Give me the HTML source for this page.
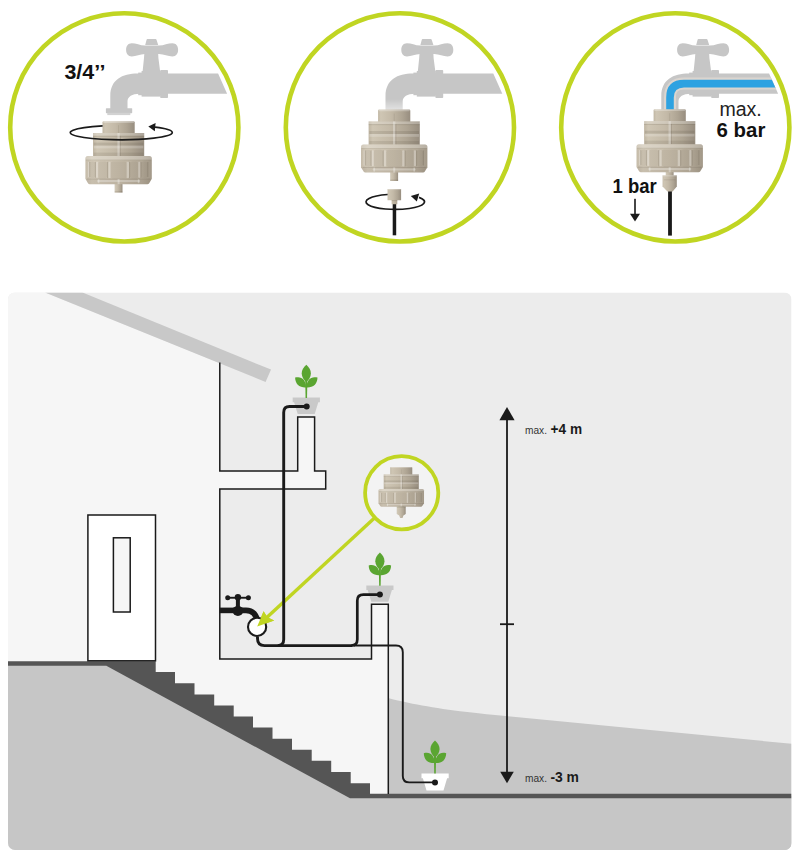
<!DOCTYPE html>
<html>
<head>
<meta charset="utf-8">
<title>Pressure reducer installation</title>
<style>
html,body{margin:0;padding:0;background:#ffffff;}
body{width:800px;height:857px;overflow:hidden;font-family:"Liberation Sans",sans-serif;}
svg{display:block;}
text{font-family:"Liberation Sans",sans-serif;}
</style>
</head>
<body>
<svg width="800" height="857" viewBox="0 0 800 857">
<defs>
  <!-- horizontal cylinder shading for beige parts -->
  <linearGradient id="cyl" x1="0" y1="0" x2="1" y2="0">
    <stop offset="0" stop-color="#bfb5a2"/>
    <stop offset="0.08" stop-color="#cfc6b4"/>
    <stop offset="0.4" stop-color="#c4baa8"/>
    <stop offset="0.75" stop-color="#aea493"/>
    <stop offset="1" stop-color="#978d7f"/>
  </linearGradient>
  <linearGradient id="cyl2" x1="0" y1="0" x2="1" y2="0">
    <stop offset="0" stop-color="#c5bba9"/>
    <stop offset="0.1" stop-color="#d3cab9"/>
    <stop offset="0.5" stop-color="#c7bdab"/>
    <stop offset="0.85" stop-color="#b3a998"/>
    <stop offset="1" stop-color="#a29888"/>
  </linearGradient>
  <linearGradient id="fade" x1="0" y1="0" x2="0" y2="1"><stop offset="0" stop-color="#fff" stop-opacity="0"/><stop offset="1" stop-color="#fff" stop-opacity="0.5"/></linearGradient>
  <clipPath id="waterclip"><path d="M640,60 L763.1,60 L769.1,73.6 L778.1,93.7 L785,120 L640,120 Z"/></clipPath>
  <clipPath id="panelclip"><rect x="8" y="292.5" width="783.5" height="557.5" rx="7" ry="7"/></clipPath>

  <!-- FAUCET silhouette, drawn in circle-1 coordinates -->
  <g id="faucet">
    <!-- top knob -->
    <path d="M147.4,39 L155.6,39 Q156.3,39 156.5,39.7 L158.2,45 L145.2,45 L146.6,39.7 Q146.8,39 147.4,39 Z"/>
    <!-- handle -->
    <path d="M131.8,43.2 C128,43.2 126.1,46 126.1,49.8 C126.1,53.6 128,56.5 131.8,56.5 C136,56.5 140,54.4 145,54.1 L159,54.1 C164,54.4 168,56.5 172.4,56.5 C176.2,56.5 178.1,53.6 178.1,49.8 C178.1,46 176.2,43.2 172.4,43.2 C168,43.2 164,45.3 159,45.6 L145,45.6 C140,45.3 136,43.2 131.8,43.2 Z"/>
    <!-- stem -->
    <path d="M144.8,46 L157.8,46 L158.4,58 L160.2,72 L142.4,73.6 L144,58 Z"/>
    <!-- valve body -->
    <rect x="138.2" y="72.6" width="23" height="22.6"/>
    <rect x="160.2" y="70" width="7.8" height="28" rx="0.8"/>
    <rect x="141.6" y="71" width="19" height="25.6"/>
    <!-- pipe -->
    <path d="M137.8,73.6 L218.1,73.6 L227.1,93.7 L139.7,93.7 C132,93.7 127.5,96.6 127.5,101.6 L127.5,110 L110.3,110 L110.3,96 C110.3,80 122,73.6 137.8,73.6 Z"/>
  </g>
  <g id="flange">
    <rect x="105.9" y="108.2" width="26.3" height="5" rx="0.6"/>
    <rect x="107.3" y="112.8" width="23" height="2.3" fill="#d2d2d2"/>
  </g>

  <!-- ADAPTER: local coords, centre x=0, neck top y=0 -->
  <g id="adapter">
    <!-- nozzle -->
    <rect x="-3.9" y="61" width="7.8" height="10.4" fill="url(#cyl)"/>
    <rect x="-3.9" y="69.8" width="7.8" height="1.6" fill="#4a4030" opacity="0.12"/>
    <!-- neck -->
    <rect x="-16.1" y="0" width="32.2" height="14" rx="1.2" fill="url(#cyl)"/>
    <rect x="-15.6" y="0" width="31.2" height="1.7" rx="0.8" fill="#fff" opacity="0.28"/>
    <rect x="-0.4" y="4" width="0.8" height="8" fill="#4a4030" opacity="0.12"/>
    <!-- mid body -->
    <rect x="-25.6" y="11.8" width="51.2" height="24" fill="url(#cyl)"/>
    <rect x="-25.8" y="11.8" width="51.6" height="2.8" rx="0.5" fill="#fff" opacity="0.22"/>
    <rect x="-25.6" y="14.6" width="51.2" height="0.9" fill="#4a4030" opacity="0.16"/>
    <rect x="-24.8" y="21.4" width="49.6" height="3" fill="#4a4030" opacity="0.14"/>
    <rect x="-24.8" y="24.4" width="49.6" height="2.8" fill="#fff" opacity="0.2"/>
    <rect x="-24.8" y="31.4" width="49.6" height="3.4" fill="#4a4030" opacity="0.12"/>
    <rect x="-1.2" y="11.8" width="2.4" height="23.4" fill="#fff" opacity="0.3"/>
    <rect x="1.2" y="14.6" width="0.9" height="20.4" fill="#4a4030" opacity="0.2"/>
    <!-- nut -->
    <path d="M-33.2,37.4 Q-33.2,34.9 -30.7,34.9 L30.7,34.9 Q33.2,34.9 33.2,37.4 L33.2,57.6 L30.6,62 Q30,63 28.8,63 L-28.8,63 Q-30,63 -30.6,62 L-33.2,57.6 Z" fill="url(#cyl2)"/>
    <path d="M-33.2,37.4 Q-33.2,34.9 -30.7,34.9 L30.7,34.9 Q33.2,34.9 33.2,37.4 L33.2,38.6 L-33.2,38.6 Z" fill="#fff" opacity="0.22"/>
    <rect x="-32.8" y="38.4" width="65.6" height="0.8" fill="#4a4030" opacity="0.12"/>
    <!-- ribs -->
    <g fill="#fff" opacity="0.26">
      <rect x="-22.6" y="40.6" width="2.2" height="16" rx="1"/>
      <rect x="-10.4" y="40.6" width="2.4" height="16.4" rx="1.1"/>
      <rect x="8" y="40.6" width="2.4" height="16.4" rx="1.1"/>
      <rect x="19.6" y="40.6" width="2.2" height="16" rx="1"/>
      <rect x="-30.6" y="40.6" width="1.2" height="15.4" rx="0.6"/>
    </g>
    <g fill="#4a4030" opacity="0.2">
      <rect x="-23.8" y="40.6" width="1.2" height="16" rx="0.6"/>
      <rect x="-11.6" y="40.6" width="1.2" height="16.4" rx="0.6"/>
      <rect x="10.4" y="40.6" width="1.2" height="16.4" rx="0.6"/>
      <rect x="21.8" y="40.6" width="1.2" height="16" rx="0.6"/>
      <rect x="-29.4" y="40.6" width="1" height="15.4" rx="0.5"/>
      <rect x="28.6" y="40.6" width="1.2" height="15.4" rx="0.6"/>
    </g>
    <g fill="#4a4030" opacity="0.07">
      <rect x="-28.4" y="40.2" width="4.6" height="16.6" rx="1.6"/>
      <rect x="-20.4" y="40.2" width="8.8" height="17" rx="2"/>
      <rect x="-8" y="40.2" width="16" height="17.2" rx="2.4"/>
      <rect x="11.6" y="40.2" width="8" height="17" rx="2"/>
      <rect x="23" y="40.2" width="5.6" height="16.6" rx="1.6"/>
    </g>
    <!-- lower rim -->
    <path d="M-33,57.8 L33,57.8 L30.6,62 Q30,63 28.8,63 L-28.8,63 Q-30,63 -30.6,62 Z" fill="#4a4030" opacity="0.08"/>
    <rect x="-31.6" y="57.3" width="63.2" height="0.9" fill="#4a4030" opacity="0.2"/>
    <rect x="-21.6" y="58.8" width="43.2" height="2" rx="1" fill="#fff" opacity="0.25"/>
    <rect x="-1" y="57.8" width="2" height="5.2" fill="#fff" opacity="0.3"/>
    <rect x="-20.8" y="58" width="1.6" height="4" fill="#fff" opacity="0.3"/>
    <rect x="19.2" y="58" width="1.6" height="4" fill="#fff" opacity="0.3"/>
  </g>

  <!-- PLANT: local coords, centre x=0, pot rim top y=0 -->
  <g id="sprout" fill="#5aa531">
    <path d="M-1.05,-17 L1.05,-17 L0.75,0.6 L-0.75,0.6 Z"/>
    <path d="M0,-32.6 C2.8,-30 4.6,-27.2 4.6,-24 C4.6,-20.4 2.2,-17.4 0,-15.4 C-2.2,-17.4 -4.6,-20.4 -4.6,-24 C-4.6,-27.2 -2.8,-30 0,-32.6 Z"/>
    <path d="M-11.2,-19.8 C-8,-20.8 -4.4,-20.2 -2.6,-17.6 C-1.4,-16 -0.8,-14.4 -0.4,-12.6 L-0.3,-10 C-3,-9.8 -6.4,-10.4 -8.6,-12.6 C-10.2,-14.4 -11.1,-16.8 -11.2,-19.8 Z"/>
    <path d="M11.2,-19.8 C8,-20.8 4.4,-20.2 2.6,-17.6 C1.4,-16 0.8,-14.4 0.4,-12.6 L0.3,-10 C3,-9.8 6.4,-10.4 8.6,-12.6 C10.2,-14.4 11.1,-16.8 11.2,-19.8 Z"/>
  </g>
  <path id="pot" d="M-13.6,0.2 L13.6,0.2 L13.6,4.8 L12,4.8 L8.4,16.5 L-8.6,16.5 L-12.2,4.8 L-13.6,4.8 Z"/>
</defs>

<!-- ============ TOP CIRCLES ============ -->
<g id="c1">
  <circle cx="124.3" cy="127.4" r="114.1" fill="#fff" stroke="#c0d522" stroke-width="4.6"/>
  <use href="#faucet" fill="#c6c6c6"/>
  <use href="#flange" fill="#c6c6c6"/>
  <!-- rotation arrow back part is hidden by the neck -->
  <use href="#adapter" transform="translate(118.6,121.2)"/>
  <path d="M102.6,125.9 A51,7.2 0 1 0 155,127.2" fill="none" stroke="#1a1a1a" stroke-width="1.7"/>
  <path d="M148.3,126.4 L155.6,123 L154.8,131.2 Z" fill="#1a1a1a"/>
  <text x="64.4" y="78.6" font-size="20.5" font-weight="bold" fill="#111" textLength="41" lengthAdjust="spacingAndGlyphs">3/4&#8217;&#8217;</text>
</g>
<g id="c2">
  <circle cx="399.9" cy="127.4" r="114.1" fill="#fff" stroke="#c0d522" stroke-width="4.6"/>
  <use href="#faucet" fill="#c6c6c6" transform="translate(275.2,0)"/>
  <rect x="384" y="99" width="20" height="11" fill="url(#fade)"/>
  <use href="#adapter" transform="translate(394.2,109.6)"/>
  <!-- loose connector + tube -->
  <rect x="392.7" y="203" width="3.5" height="32.3" fill="#1a1a1a"/>
  <path d="M387.6,188.9 L401.1,188.9 L401.1,200.2 L397.3,200.2 L397.3,204.3 L391.6,204.3 L391.6,200.2 L387.6,200.2 Z" fill="url(#cyl)"/>
  <rect x="387.6" y="188.9" width="13.5" height="1.2" fill="#fff" opacity="0.25"/>
  <rect x="391.6" y="200.2" width="5.7" height="0.9" fill="#4a4030" opacity="0.18"/>
  <path d="M387.6,194.5 A29.25,7.6 0 1 0 419,197.4" fill="none" stroke="#1a1a1a" stroke-width="1.7"/>
  <path d="M410.8,196 L419.2,193.4 L416.8,201.6 Z" fill="#1a1a1a"/>
</g>
<g id="c3">
  <circle cx="675.3" cy="127.4" r="114.1" fill="#fff" stroke="#c0d522" stroke-width="4.6"/>
  <use href="#faucet" fill="#c6c6c6" transform="translate(551,0)"/>
  <g clip-path="url(#waterclip)">
    <path d="M790,83.6 L684,83.6 Q670,83.6 670,97.4 L670,112" fill="none" stroke="#dbd5cf" stroke-width="12"/>
    <path d="M790,83.6 L684,83.6 Q670,83.6 670,97.4 L670,112" fill="none" stroke="#2ea2e1" stroke-width="7.6"/>
  </g>
  <rect x="668.1" y="188" width="3.8" height="47.6" fill="#1a1a1a"/>
  <use href="#adapter" transform="translate(669.7,109.3)"/>
  <path d="M662.6,175.2 L676.8,175.2 L676.8,186.6 L672.6,191.6 L667.4,191.6 L662.6,186.6 Z" fill="url(#cyl)"/>
  <rect x="662.6" y="175.2" width="14.2" height="1.2" fill="#fff" opacity="0.25"/>
  <rect x="664" y="179.4" width="11.4" height="0.9" fill="#4a4030" opacity="0.14"/>
  <text x="719.4" y="115.8" font-size="19.5" fill="#222" textLength="42.4" lengthAdjust="spacingAndGlyphs">max.</text>
  <text x="716.6" y="137" font-size="19.5" font-weight="bold" fill="#111" textLength="48.8" lengthAdjust="spacingAndGlyphs">6 bar</text>
  <text x="612.6" y="193" font-size="20" font-weight="bold" fill="#111" textLength="44.2" lengthAdjust="spacingAndGlyphs">1 bar</text>
  <rect x="634.2" y="198.8" width="1.6" height="16" fill="#1a1a1a"/>
  <path d="M630,213.8 L640,213.8 L635,221.4 Z" fill="#1a1a1a"/>
</g>

<!-- ============ LOWER PANEL ============ -->
<g id="panel" clip-path="url(#panelclip)">
  <rect x="8" y="292.5" width="783.5" height="557.5" fill="#ececec"/>
  <!-- house wall (light) -->
  <path d="M8,292.5 L45,292.5 L219.8,363 L219.8,470.9 L297.7,470.9 L297.7,417 L314.6,417 L314.6,470.9 L325.7,470.9 L325.7,488.9 L219.8,488.9 L219.8,658.9 L371.5,658.9 L371.5,604.2 L388.3,604.2 L388.3,800 L8,800 Z" fill="#f6f6f6"/>
  <!-- hill -->
  <path d="M388.3,698 C400,701.5 430,707.5 460,711.2 C480,713.6 495,715 508,716.2 L791.5,743.8 L791.5,850 L388.3,850 Z" fill="#c6c6c6"/>
  <!-- ground -->
  <path d="M8,663 L106.3,663 L350,796 L791.5,796 L791.5,850 L8,850 Z" fill="#c6c6c6"/>
  <!-- roof -->
  <path d="M45,292.5 L82.5,292.5 L271,369.6 L265.6,382 Z" fill="#c8c8c8"/>
  <!-- stairs + floor dark band -->
  <polygon points="8,661.2 155.7,661.2 155.7,672 175,672 175,683.2 194.5,683.2 194.5,694.4 214.2,694.4 214.2,705.5 233.7,705.5 233.7,716.6 253,716.6 253,727.6 272.5,727.6 272.5,738.8 292,738.8 292,749.8 311.7,749.8 311.7,760.8 331.2,760.8 331.2,772 350.7,772 350.7,783.2 370,783.2 370,793.8 791.5,793.8 791.5,798.3 350,798.3 106.3,665.8 8,665.8" fill="#555555"/>
  <!-- outlines -->
  <g fill="none" stroke="#1a1a1a" stroke-width="1.5" stroke-linejoin="miter">
    <path d="M219.8,362.6 L219.8,470.9 L297.7,470.9 L297.7,417 L314.6,417 L314.6,470.9 L325.7,470.9 L325.7,488.9 L219.8,488.9 L219.8,658.9 L371.5,658.9 L371.5,604.2 L388.3,604.2 L388.3,794"/>
    <rect x="87.9" y="515" width="67.6" height="145.8" fill="#ffffff"/>
    <rect x="113.4" y="537.8" width="16.8" height="74.2" fill="#f6f6f6"/>
  </g>
  <!-- dimension arrow -->
  <rect x="506.1" y="418" width="1.8" height="356" fill="#1a1a1a"/>
  <path d="M507,407 L514.6,420.2 L499.4,420.2 Z" fill="#1a1a1a"/>
  <path d="M507,783.2 L513.8,771.8 L500.2,771.8 Z" fill="#1a1a1a"/>
  <rect x="500" y="623.3" width="14" height="1.8" fill="#1a1a1a"/>
  <text x="525" y="434.2" font-size="11.5" fill="#333" textLength="22" lengthAdjust="spacingAndGlyphs">max.</text>
  <text x="550.6" y="434.2" font-size="14" font-weight="bold" fill="#1a1a1a" textLength="31.5" lengthAdjust="spacingAndGlyphs">+4 m</text>
  <text x="525" y="781.8" font-size="11.5" fill="#333" textLength="22" lengthAdjust="spacingAndGlyphs">max.</text>
  <text x="550.4" y="781.8" font-size="14" font-weight="bold" fill="#1a1a1a" textLength="28.6" lengthAdjust="spacingAndGlyphs">-3 m</text>

  <!-- pots -->
  <use href="#pot" transform="translate(306.3,397.4)" fill="#c9c9c9"/>
  <use href="#sprout" transform="translate(306.3,397.4)"/>
  <use href="#pot" transform="translate(379.9,585.2)" fill="#c9c9c9"/>
  <use href="#sprout" transform="translate(379.9,585.2)"/>
  <use href="#pot" transform="translate(435.1,773.2) scale(1.0,1.05)" fill="#ffffff"/>
  <use href="#sprout" transform="translate(435,773)"/>

  <!-- small circle callout + arrow -->
  <line x1="375" y1="517.4" x2="266" y2="618.2" stroke="#c0d522" stroke-width="3.4"/>
  <path d="M257.2,626.4 L263.6,611.2 L267.4,617.2 L274.2,620.4 Z" fill="#c0d522"/>
  <circle cx="401.7" cy="492.7" r="36.6" fill="#f3f3f3" stroke="#c0d522" stroke-width="3.8"/>
  <use href="#adapter" transform="translate(401.25,466.9) scale(0.686,0.632)"/>
  <path d="M396.8,506.4 L405.7,506.4 L405.7,514 L403.4,515.6 L402.5,518 L400.1,518 L399.2,515.6 L396.8,514 Z" fill="url(#cyl)"/>
  <rect x="396.8" y="506.4" width="8.9" height="1.1" fill="#4a4030" opacity="0.18"/>

  <!-- tubes -->
  <g fill="none" stroke="#1a1a1a" stroke-linejoin="round">
    <path stroke-width="1.9" d="M354,645.5 L396,645.5 Q402.8,645.5 402.8,652.3 L402.8,776 Q402.8,782.4 409.2,782.4 L435,782.4"/>
    <path stroke-width="2.9" d="M306.7,406.5 L289.6,406.5 Q283.7,406.5 283.7,412.4 L283.7,639.6 Q283.7,645.6 277.7,645.6"/>
    <path stroke-width="2.9" d="M257.5,636.5 L257.5,638.6 Q257.5,645.6 264.5,645.6 L352,645.6"/>
    <path stroke-width="2.7" d="M379.9,594.6 L363.4,594.6 Q357.3,594.6 357.3,600.5 L357.3,639.6 Q357.3,645.6 351.3,645.6"/>
  </g>
  <circle cx="306.7" cy="406.5" r="3" fill="#1a1a1a"/>
  <circle cx="379.9" cy="594.6" r="3" fill="#1a1a1a"/>
  <circle cx="435" cy="782.4" r="3" fill="#1a1a1a"/>

  <!-- wall tap -->
  <g fill="#1a1a1a">
    <rect x="219.6" y="607.6" width="17" height="5.6"/>
    <ellipse cx="237.9" cy="610.9" rx="5.3" ry="5"/>
    <rect x="235.9" y="598" width="4" height="10"/>
    <circle cx="237.9" cy="597.2" r="3.2"/>
    <rect x="227.7" y="596.8" width="20.7" height="1.9"/>
    <circle cx="227.7" cy="597.7" r="2.5"/>
    <circle cx="248.4" cy="597.7" r="2.5"/>
    <path d="M240,610.4 L246,610.4 C252,610.4 256,614 257.6,621" fill="none" stroke="#1a1a1a" stroke-width="5.7"/>
  </g>
  <circle cx="257.1" cy="626.9" r="9.1" fill="#ffffff" stroke="#1a1a1a" stroke-width="2.1"/>
  <!-- arrow tip drawn above the white circle -->
  <path d="M257.2,626.4 L263.6,611.2 L267.4,617.2 L274.2,620.4 Z" fill="#c0d522"/>
</g>
</svg>
</body>
</html>
